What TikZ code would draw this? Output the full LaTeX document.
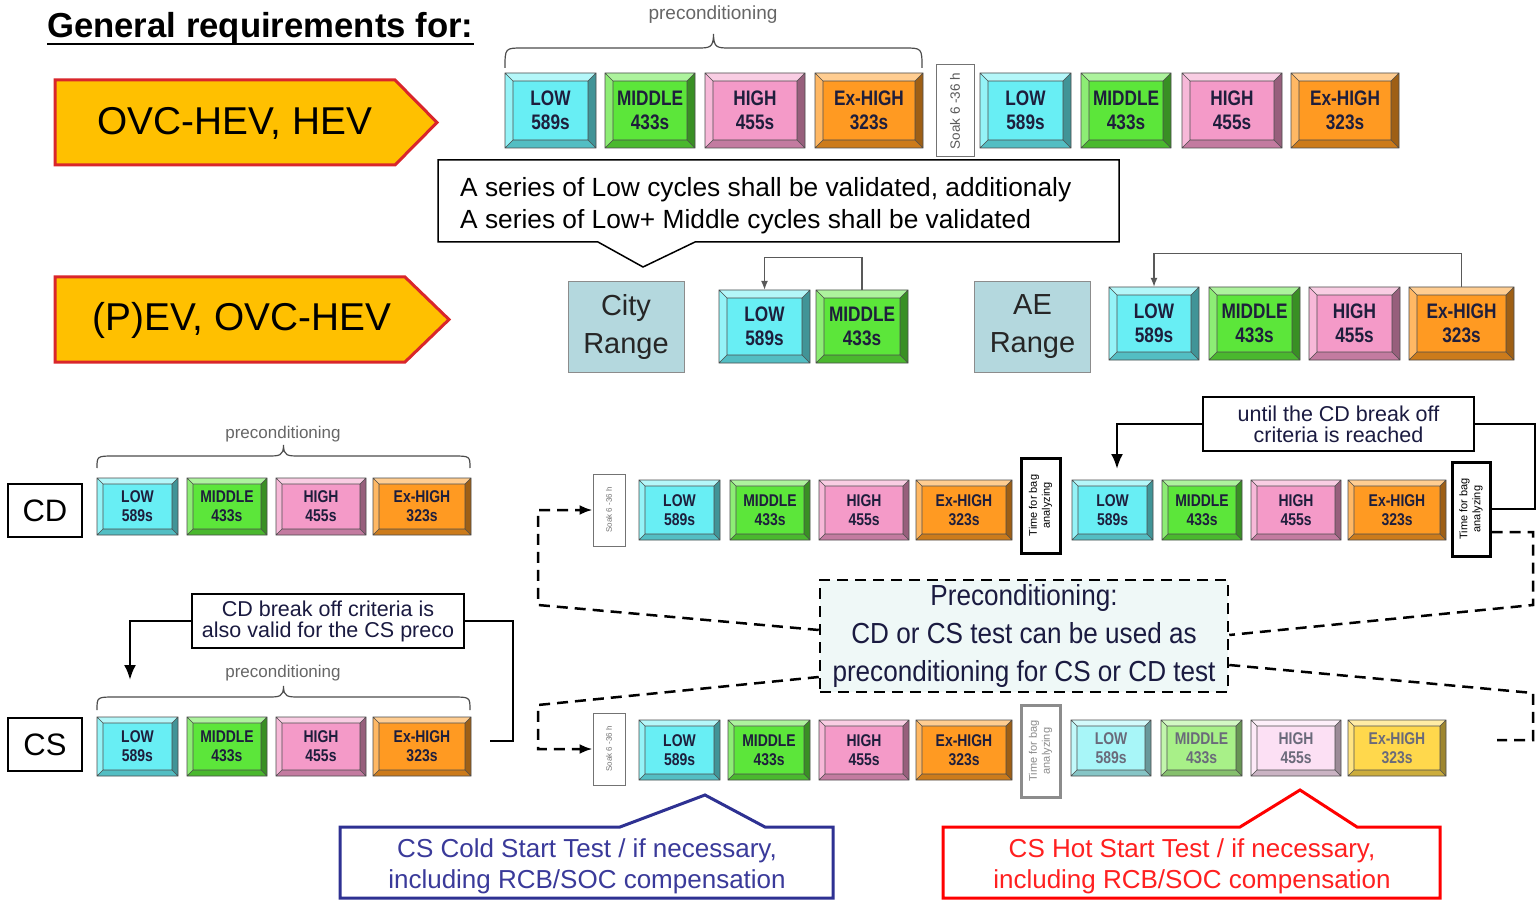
\documentclass[tikz,border=0pt]{standalone}
\usepackage{fontspec}
\setmainfont{Liberation Sans}
\newfontfamily\cycfont[FakeStretch=0.82]{Liberation Sans}
\newfontfamily\narfont[FakeStretch=0.9]{Liberation Sans}
\usetikzlibrary{arrows.meta}
\definecolor{cLow}{HTML}{68EEF4}
\definecolor{cMid}{HTML}{5CE63A}
\definecolor{cHigh}{HTML}{F49AC8}
\definecolor{cExh}{HTML}{FF9A22}
\definecolor{fLow}{HTML}{A8F6F8}
\definecolor{fMid}{HTML}{A8F088}
\definecolor{fHigh}{HTML}{FCE0F4}
\definecolor{fExh}{HTML}{FFD84C}
\definecolor{ctxt}{HTML}{1E1E3C}
\definecolor{ftxt}{HTML}{6A6A7A}
\definecolor{ntxt}{HTML}{1A1A40}
\definecolor{pentfill}{HTML}{FFC000}
\definecolor{pentline}{HTML}{D9262B}
\definecolor{rangefill}{HTML}{B4D8DE}
\definecolor{prefill}{HTML}{EFF8F7}
\definecolor{navy}{HTML}{2E3192}
\definecolor{navytxt}{HTML}{3A3A9A}
\definecolor{redl}{HTML}{FF0000}
\definecolor{redtxt}{HTML}{FF2020}
\def\cbev{8}
% name, x1, y1, x2, y2, colour, text style, line1, line2
\newcommand\cyc[9]{%
 \fill[#6] (#2,#3) rectangle (#4,#5);
 \fill[#6!50!white] (#2,#3) -- (#4,#3) -- (#4-\cbev,#3+\cbev) -- (#2+\cbev,#3+\cbev) -- cycle;
 \fill[#6!70!white] (#2,#3) -- (#2+\cbev,#3+\cbev) -- (#2+\cbev,#5-\cbev) -- (#2,#5) -- cycle;
 \fill[#6!62!black] (#4,#3) -- (#4,#5) -- (#4-\cbev,#5-\cbev) -- (#4-\cbev,#3+\cbev) -- cycle;
 \fill[#6!80!black] (#2,#5) -- (#4,#5) -- (#4-\cbev,#5-\cbev) -- (#2+\cbev,#5-\cbev) -- cycle;
 \draw[cycline] (#2,#3) rectangle (#4,#5) (#2+\cbev,#3+\cbev) rectangle (#4-\cbev,#5-\cbev)
   (#2,#3) -- (#2+\cbev,#3+\cbev) (#4,#3) -- (#4-\cbev,#3+\cbev)
   (#2,#5) -- (#2+\cbev,#5-\cbev) (#4,#5) -- (#4-\cbev,#5-\cbev);
 \node[inner sep=0pt, minimum width={#4-#2}, minimum height={#5-#3}, align=center, #7] (#1) at ({(#2+#4)/2},{(#3+#5)/2}) {#8\\#9};
}
% x1, x2, yend, yhor, ytip
\newcommand\bracepath[5]{%
 \draw[brc] (#1,#3) .. controls (#1,#4) and (#1,#4) .. (#1+18,#4) -- ({(#1+#2)/2-16},#4) .. controls ({(#1+#2)/2-4},#4) and ({(#1+#2)/2},#4) .. ({(#1+#2)/2},#5) .. controls ({(#1+#2)/2},#4) and ({(#1+#2)/2+4},#4) .. ({(#1+#2)/2+16},#4) -- (#2-18,#4) .. controls (#2,#4) and (#2,#4) .. (#2,#3);
}
\begin{document}
\begin{tikzpicture}[x=1pt,y=-1pt,
 cycline/.style={draw=black!70, line width=0.6pt},
 bigtxt/.style={font=\cycfont\bfseries\fontsize{21}{24}\selectfont, text=ctxt},
 smltxt/.style={font=\cycfont\bfseries\fontsize{17}{19}\selectfont, text=ctxt},
 fadetxt/.style={font=\cycfont\bfseries\fontsize{17}{19}\selectfont, text=ftxt},
 pent/.style={fill=pentfill, draw=pentline, line width=3pt, line join=miter},
 penttxt/.style={font=\fontsize{38.8}{40}\selectfont},
 rangebox/.style={draw=black!45, fill=rangefill, line width=1pt, align=center, font=\fontsize{29}{38}\selectfont, text=black!85, minimum width=116, minimum height=90},
 garr/.style={draw=black!65, line width=1.3pt, -{Latex[length=9pt,width=7pt]}},
 lblbox/.style={draw=black, line width=2.5pt, minimum width=74, minimum height=53, font=\fontsize{31}{33}\selectfont},
 callbox/.style={draw=black, line width=2.5pt, fill=white, align=center, font=\fontsize{21.5}{21}\selectfont, text=ntxt, minimum width=271, minimum height=54, inner sep=0pt},
 blk/.style={draw=black, line width=2.5pt},
 blkarr/.style={draw=black, line width=2.5pt, -{Latex[length=15pt,width=12pt]}},
 dsh/.style={draw=black, line width=2.5pt, dash pattern=on 11pt off 7pt},
 dsharr/.style={dsh, -{Latex[length=13pt,width=10pt]}},
 brc/.style={draw=black!70, line width=1.2pt},
 precl/.style={text=black!60, font=\fontsize{18}{20}\selectfont},
 tbox/.style={draw=black, line width=3pt, fill=white, inner sep=0pt},
 soakbox/.style={draw=black!55, line width=1pt, fill=white, inner sep=0pt},
 rottxt/.style={rotate=90, align=center, inner sep=0pt},
]
\useasboundingbox (0,0) rectangle (1537,901);
\fill[white] (0,0) rectangle (1537,901);

% title
\node[anchor=base west, inner sep=0pt, font=\bfseries\fontsize{34.7}{36}\selectfont] (title) at (47,38) {General requirements for:};
\draw[line width=1.8pt] ([yshift=-6pt]title.base west) -- ([yshift=-6pt]title.base east);

% pentagons
\draw[pent] (55,80) -- (395,80) -- (437,122.5) -- (395,165) -- (55,165) -- cycle;
\node[penttxt] (p1) at (235,123) {OVC-HEV, HEV};
\draw[pent] (55,277) -- (405,277) -- (449,319.5) -- (405,362) -- (55,362) -- cycle;
\node[penttxt] (p2) at (242,320) {(P)EV, OVC-HEV};

% top row
\node[precl, font=\fontsize{19}{20}\selectfont] (pc0) at (713,15) {preconditioning};
\bracepath{505}{922}{68}{48}{34}
\def\cbev{8}
\cyc{t1}{505}{73}{596}{148}{cLow}{bigtxt}{LOW}{589s}
\cyc{t2}{605}{73}{695}{148}{cMid}{bigtxt}{MIDDLE}{433s}
\cyc{t3}{705}{73}{805}{148}{cHigh}{bigtxt}{HIGH}{455s}
\cyc{t4}{815}{73}{923}{148}{cExh}{bigtxt}{Ex-HIGH}{323s}
\node[soakbox, minimum width=38, minimum height=92] (sk0) at (955,111) {};
\node[rottxt, text=black!65, font=\fontsize{13.5}{14}\selectfont] (sk0t) at (sk0) {Soak 6 -36 h};
\cyc{t5}{980}{73}{1071}{148}{cLow}{bigtxt}{LOW}{589s}
\cyc{t6}{1081}{73}{1171}{148}{cMid}{bigtxt}{MIDDLE}{433s}
\cyc{t7}{1182}{73}{1282}{148}{cHigh}{bigtxt}{HIGH}{455s}
\cyc{t8}{1291}{73}{1399}{148}{cExh}{bigtxt}{Ex-HIGH}{323s}

% top callout
\draw[line width=1.5pt, fill=white] (438,160) -- (1119,160) -- (1119,242) -- (695,242) -- (643,267) -- (598,242) -- (438,242) -- cycle;
\node[anchor=west, align=left, inner sep=0pt, font=\fontsize{26.3}{32}\selectfont] (note1) at (460,205.5) {A series of Low cycles shall be validated, additionaly\\A series of Low+ Middle cycles shall be validated};

% City / AE range
\node[rangebox] (city) at (626,327) {City\\Range};
\cyc{c1}{719}{290}{810}{363}{cLow}{bigtxt}{LOW}{589s}
\cyc{c2}{816}{290}{908}{363}{cMid}{bigtxt}{MIDDLE}{433s}
\draw[garr] (c2.north) -- ++(0,-32) -| (c1.north);
\node[rangebox] (ae) at (1032.5,327) {AE\\Range};
\cyc{a1}{1109}{287}{1199}{360}{cLow}{bigtxt}{LOW}{589s}
\cyc{a2}{1209}{287}{1300}{360}{cMid}{bigtxt}{MIDDLE}{433s}
\cyc{a3}{1309}{287}{1400}{360}{cHigh}{bigtxt}{HIGH}{455s}
\cyc{a4}{1409}{287}{1514}{360}{cExh}{bigtxt}{Ex-HIGH}{323s}
\draw[garr] (a4.north) -- ++(0,-33) -| (a1.north);

% CD left
\def\cbev{6}
\node[lblbox] (cd) at (45,510.5) {CD};
\node[precl, font=\fontsize{17}{18}\selectfont] (pc1) at (283,434) {preconditioning};
\bracepath{97}{470}{468}{456}{445}
\cyc{d1}{97}{478}{178}{535}{cLow}{smltxt}{LOW}{589s}
\cyc{d2}{187}{478}{267}{535}{cMid}{smltxt}{MIDDLE}{433s}
\cyc{d3}{276}{478}{366}{535}{cHigh}{smltxt}{HIGH}{455s}
\cyc{d4}{373}{478}{471}{535}{cExh}{smltxt}{Ex-HIGH}{323s}

% CS left
\node[lblbox] (cs) at (45,744.5) {CS};
\node[precl, font=\fontsize{17}{18}\selectfont] (pc2) at (283,673) {preconditioning};
\bracepath{97}{470}{710}{697}{686}
\cyc{e1}{97}{717}{178}{776}{cLow}{smltxt}{LOW}{589s}
\cyc{e2}{187}{717}{267}{776}{cMid}{smltxt}{MIDDLE}{433s}
\cyc{e3}{276}{717}{366}{776}{cHigh}{smltxt}{HIGH}{455s}
\cyc{e4}{373}{717}{471}{776}{cExh}{smltxt}{Ex-HIGH}{323s}
\node[callbox, minimum width=272] (csnote) at (328,621) {CD break off criteria is\\also valid for the CS preco};
\coordinate (csa) at (130,680);
\coordinate (csr) at (513,741);
\coordinate (cse) at (490,741);
\draw[blkarr] (csnote.west) -| (csa);
\draw[blk] (csnote.east) -| (csr) -- (cse);

% CD right row
\node[soakbox, minimum width=32, minimum height=72] (sk1) at (609,510) {};
\node[rottxt, text=black!55, font=\fontsize{8}{9}\selectfont] (sk1t) at (sk1) {Soak 6 -36 h};
\cyc{r1}{639}{480}{720}{540}{cLow}{smltxt}{LOW}{589s}
\cyc{r2}{730}{480}{810}{540}{cMid}{smltxt}{MIDDLE}{433s}
\cyc{r3}{819}{480}{909}{540}{cHigh}{smltxt}{HIGH}{455s}
\cyc{r4}{916}{480}{1012}{540}{cExh}{smltxt}{Ex-HIGH}{323s}
\node[tbox, minimum width=39, minimum height=95] (tb1) at (1040.5,505.5) {};
\node[rottxt, font=\fontsize{11}{13}\selectfont] (tb1t) at (tb1) {Time for bag\\analyzing};
\cyc{r5}{1072}{480}{1153}{540}{cLow}{smltxt}{LOW}{589s}
\cyc{r6}{1162}{480}{1242}{540}{cMid}{smltxt}{MIDDLE}{433s}
\cyc{r7}{1251}{480}{1341}{540}{cHigh}{smltxt}{HIGH}{455s}
\cyc{r8}{1348}{480}{1446}{540}{cExh}{smltxt}{Ex-HIGH}{323s}
\node[tbox, minimum width=38, minimum height=94] (tb2) at (1471,509) {};
\node[rottxt, font=\fontsize{11}{13}\selectfont] (tb2t) at (tb2) {Time for bag\\analyzing};
\node[callbox] (cdnote) at (1338.5,424) {until the CD break off\\criteria is reached};
\coordinate (cda) at (1117,469);
\coordinate (cdr) at (1535,509);
\draw[blkarr] (cdnote.west) -| (cda);
\draw[blk] (cdnote.east) -| (cdr) -- (tb2.east);

% CS right row
\node[soakbox, minimum width=32, minimum height=72] (sk2) at (609,749) {};
\node[rottxt, text=black!55, font=\fontsize{8}{9}\selectfont] (sk2t) at (sk2) {Soak 6 -36 h};
\cyc{q1}{639}{720}{720}{780}{cLow}{smltxt}{LOW}{589s}
\cyc{q2}{728}{720}{810}{780}{cMid}{smltxt}{MIDDLE}{433s}
\cyc{q3}{819}{720}{909}{780}{cHigh}{smltxt}{HIGH}{455s}
\cyc{q4}{916}{720}{1012}{780}{cExh}{smltxt}{Ex-HIGH}{323s}
\node[tbox, draw=black!45, minimum width=39, minimum height=92] (tb3) at (1040.5,751) {};
\node[rottxt, text=black!45, font=\fontsize{11}{13}\selectfont] (tb3t) at (tb3) {Time for bag\\analyzing};
\cyc{q5}{1071}{720}{1151}{776}{fLow}{fadetxt}{LOW}{589s}
\cyc{q6}{1161}{720}{1242}{776}{fMid}{fadetxt}{MIDDLE}{433s}
\cyc{q7}{1251}{720}{1341}{776}{fHigh}{fadetxt}{HIGH}{455s}
\cyc{q8}{1348}{720}{1446}{776}{fExh}{fadetxt}{Ex-HIGH}{323s}

% preconditioning box
\node[draw=black, fill=prefill, line width=2.5pt, dash pattern=on 11pt off 7pt, minimum width=408, minimum height=112, inner sep=0pt, align=center, font=\narfont\fontsize{29}{38}\selectfont, text=ntxt] (pre) at (1024,636) {Preconditioning:\\CD or CS test can be used as\\preconditioning for CS or CD test};

% dashed connectors
\coordinate (dr1) at (1533,532);
\coordinate (dr2) at (1533,605);
\coordinate (dl1) at (538,605);
\coordinate (dl2) at (538,705);
\coordinate (dr3) at (1533,693);
\coordinate (dr4) at (1533,740);
\coordinate (dr5) at (1497,740);
\draw[dsh] ([yshift=-23pt]tb2.east) -- (dr1) -- (dr2) -- ([yshift=1pt]pre.east);
\draw[dsharr] ([yshift=6pt]pre.west) -- (dl1) |- (sk1.west);
\draw[dsharr] ([yshift=-41pt]pre.west) -- (dl2) |- (sk2.west);
\draw[dsh] ([yshift=-29pt]pre.east) -- (dr3) -- (dr4) -- (dr5);

% bottom callouts
\draw[draw=navy, line width=3pt, fill=white, line join=miter] (340,827) -- (620,827) -- (705,795) -- (765,827) -- (833,827) -- (833,898) -- (340,898) -- cycle;
\node[align=center, inner sep=0pt, text=navytxt, font=\fontsize{26}{31}\selectfont] (cold) at (587,866.5) {CS Cold Start Test / if necessary,\\including RCB/SOC compensation};
\draw[draw=redl, line width=3pt, fill=white, line join=miter] (943,827) -- (1240,827) -- (1300,790) -- (1357,827) -- (1440,827) -- (1440,898) -- (943,898) -- cycle;
\node[align=center, inner sep=0pt, text=redtxt, font=\fontsize{26}{31}\selectfont] (hot) at (1192,866.5) {CS Hot Start Test / if necessary,\\including RCB/SOC compensation};
\end{tikzpicture}
\end{document}
